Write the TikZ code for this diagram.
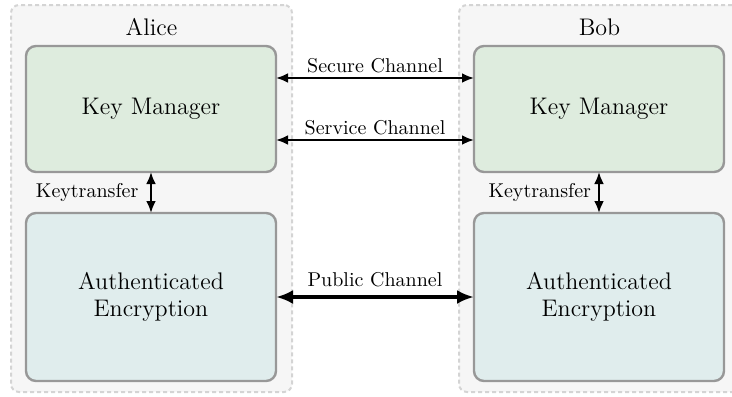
\documentclass[tikz,border=0pt]{standalone}
\usepackage{tikz}
\usetikzlibrary{positioning,arrows.meta}
\definecolor{kmgreen}{RGB}{222,236,222}
\definecolor{aeblue}{RGB}{224,237,237}
\definecolor{boxgray}{RGB}{152,152,152}
\definecolor{grpfill}{RGB}{246,246,246}
\definecolor{grpline}{RGB}{212,212,212}

\begin{document}
\begin{tikzpicture}[node distance=20.5pt, outer sep=0pt]
    \tikzstyle{GRP} = [anchor=north west, rectangle, rounded corners=4pt, draw=grpline, fill=grpfill, line width=1pt, dash pattern=on 2pt off 1.5pt, minimum width=140.5pt, minimum height=193.5pt]
    \tikzstyle{BX} = [rectangle, rounded corners=5pt, draw=boxgray, line width=1.2pt, minimum width=125pt, text width=115pt, align=center, font=\fontsize{12}{13.3}\selectfont]
    \tikzstyle{CH} = [{Latex[length=6pt,width=5pt]}-{Latex[length=6pt,width=5pt]}, line width=1.25pt]
    \tikzstyle{LB} = [inner sep=2.5pt, font=\normalsize]
    \useasboundingbox (0,0) rectangle (366pt,-198pt);
    \clip (0,0) rectangle (366pt,-198pt);
    % the two parties
    \node (g1)  [GRP] at (5.5pt,-2.5pt) {};
    \node (g2)  [GRP] at (229.5pt,-2.5pt) {};
    \node (alice) [font=\large] at ([yshift=-11pt]g1.north) {Alice};
    \node (bob)   [font=\large] at ([yshift=-11pt]g2.north) {Bob};
    \node (km1) [BX, fill=kmgreen, minimum height=63pt, anchor=north west] at ([xshift=7.5pt,yshift=-20.5pt]g1.north west) {Key Manager};
    \node (ae1) [BX, fill=aeblue, minimum height=84pt, below=of km1] {Authenticated\\Encryption};
    \node (km2) [BX, fill=kmgreen, minimum height=63pt, right=99pt of km1] {Key Manager};
    \node (ae2) [BX, fill=aeblue, minimum height=84pt, below=of km2] {Authenticated\\Encryption};
    % channels
    \draw [CH] ([yshift=15.5pt]km1.east) -- node[LB, above] {Secure Channel} ([yshift=15.5pt]km2.west);
    \draw [CH] ([yshift=-15.5pt]km1.east) -- node[LB, above] {Service Channel} ([yshift=-15.5pt]km2.west);
    \draw [{Latex[length=8.5pt,width=7pt]}-{Latex[length=8.5pt,width=7pt]}, line width=2.3pt] (ae1) -- node[LB, above=2.5pt] {Public Channel} (ae2);
    \draw [CH] (km1) -- node[LB, left=3.8pt] {Keytransfer} (ae1);
    \draw [CH] (km2) -- node[LB, left=1.5pt] {Keytransfer} (ae2);
\end{tikzpicture}
\end{document}
